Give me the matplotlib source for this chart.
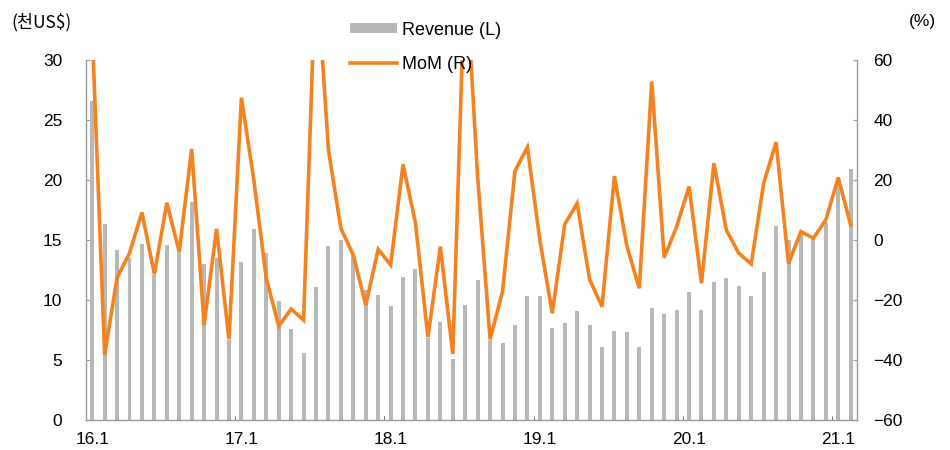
import matplotlib
matplotlib.use("Agg")
import matplotlib.pyplot as plt
import numpy as np

plt.rcParams['font.family'] = ['Liberation Sans', 'Noto Sans CJK KR']
plt.rcParams['font.size'] = 12

# --- data (2016.1 ~ 2021.2, monthly) ---
tick_labels = ['16.1', '17.1', '18.1', '19.1', '20.1', '21.1']
revenue = [26.6, 16.3, 14.2, 13.5, 14.7, 12.1, 14.6, 14.1, 18.2, 13.0, 13.5, 6.7,
           13.2, 15.9, 13.9, 9.9, 7.6, 5.6, 11.1, 14.5, 15.0, 13.8, 10.8, 10.4,
           9.5, 11.9, 12.6, 6.8, 8.2, 5.1, 9.6, 11.7, 6.7, 6.4, 7.9, 10.3,
           10.3, 7.7, 8.1, 9.1, 7.9, 6.1, 7.4, 7.3, 6.1, 9.3, 8.8, 9.2,
           10.7, 9.2, 11.5, 11.8, 11.2, 10.3, 12.3, 16.2, 15.0, 15.5, 15.1, 16.5,
           19.8, 20.9]
mom = [70, -38.3, -12.6, -4.4, 9.2, -11.4, 12.4, -3.9, 30.3, -28.3, 3.7, -33.1,
       47.4, 20.0, -12.8, -28.7, -23.0, -26.7, 93, 30.0, 3.9, -5.0, -21.7, -3.1,
       -8.3, 25.2, 5.6, -32.4, -2.2, -38.0, 93, 21.0, -33.1, -17.2, 23.0, 30.9,
       0.0, -24.4, 5.2, 12.2, -13.1, -22.2, 21.3, -2.0, -16.1, 52.8, -5.9, 4.4,
       17.8, -14.4, 25.6, 3.3, -4.4, -8.0, 18.9, 32.6, -7.8, 2.8, 0.6, 6.7,
       20.8, 5.0]

BAR_COLOR = '#B8B8B8'
LINE_COLOR = '#F5821F'
SPINE_COLOR = '#9A9A9A'

x = np.arange(len(revenue))

fig = plt.figure(figsize=(9.5, 4.5), dpi=100)
ax = fig.add_axes([0.0905, 0.0667, 0.8115, 0.80])
ax2 = ax.twinx()

ax.bar(x, revenue, width=0.32, color=BAR_COLOR, label='Revenue (L)', zorder=2)
ax2.plot(x, mom, color=LINE_COLOR, lw=2.6, label='MoM (R)', solid_joinstyle='miter')

ax.set_xlim(-0.5, len(revenue) - 0.5)
ax.set_ylim(0, 30)
ax.set_yticks(np.arange(0, 31, 5))
ax2.set_ylim(-60, 60)
ax2.set_yticks(np.arange(-60, 61, 20))
ax2.set_yticklabels([f'{v}'.replace('-', '\u2212') for v in range(-60, 61, 20)])

# year labels on January bars, small marks between Dec and Jan
ax.set_xticks(x[::12])
ax.set_xticklabels(tick_labels)
ax.set_xticks(x[12::12] - 0.5, minor=True)
ax.tick_params(axis='x', which='major', length=0, pad=9, labelsize=12.5)
ax.tick_params(axis='x', which='minor', direction='in', length=3, color='#555555')
ax.tick_params(axis='y', direction='in', length=3, color=SPINE_COLOR, pad=17, labelsize=12.5)
ax2.tick_params(axis='y', direction='in', length=3, color=SPINE_COLOR, pad=12, labelsize=12.5)

for a in (ax, ax2):
    a.spines['top'].set_visible(False)
    for s in ('left', 'right', 'bottom'):
        a.spines[s].set_color(SPINE_COLOR)
        a.spines[s].set_linewidth(1.0)
ax.spines['right'].set_visible(False)
ax2.spines['left'].set_visible(False)
ax2.spines['bottom'].set_visible(False)

fig.text(0.012, 0.95, '(천US$)', fontsize=12.5, ha='left', va='center',
         family=['Noto Sans CJK KR', 'Liberation Sans'])
fig.text(0.985, 0.952, '(%)', fontsize=12.5, ha='right', va='center')

h1, l1 = ax.get_legend_handles_labels()
h2, l2 = ax2.get_legend_handles_labels()
fig.legend(h1 + h2, l1 + l2, loc='upper left', bbox_to_anchor=(0.368, 0.952),
           frameon=False, fontsize=13, handlelength=2.6, handleheight=0.5,
           handletextpad=0.3, labelspacing=0.95, borderpad=0, borderaxespad=0)

fig.savefig('out.png', dpi=100)
